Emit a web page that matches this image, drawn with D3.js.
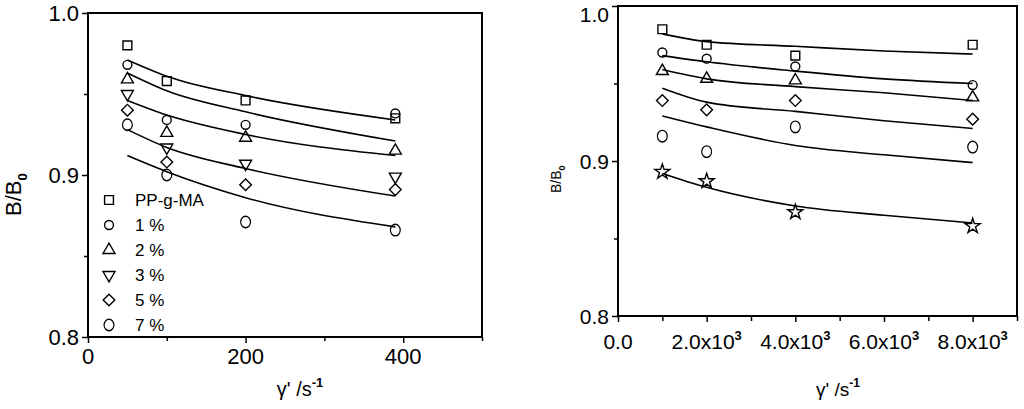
<!DOCTYPE html>
<html lang="en">
<head>
<meta charset="UTF-8">
<title>B/B0 vs shear rate</title>
<script src="https://d3js.org/d3.v7.min.js"></script>
<style>
  body { margin: 0; background: #fff; }
  svg { display: block; }
  text { font-family: "Liberation Sans", Arial, sans-serif; fill: #000; }
</style>
</head>
<body>
<svg id="chart" width="1024" height="409"></svg>
<script>
// ---- left panel data ----
const leftX = [50, 100, 200, 390];
const leftNames = ["PP-g-MA", "1 %", "2 %", "3 %", "5 %", "7 %"];
const leftSymbols = ["square", "circle", "triangle", "triangleDown", "diamond", "bigCircle"];
const leftPP = [0.980, 0.958, 0.946, 0.935];
const left1 = [0.968, 0.934, 0.931, 0.938];
const left2 = [0.959, 0.926, 0.923, 0.915];
const left3 = [0.950, 0.917, 0.907, 0.899];
const left5 = [0.940, 0.908, 0.894, 0.891];
const left7 = [0.931, 0.900, 0.871, 0.866];
const leftFitX = [50, 100, 200, 390];
const leftFits = [
  [0.971, 0.961, 0.949, 0.934],
  [0.963, 0.952, 0.939, 0.921],
  [0.946, 0.937, 0.925, 0.912],
  [0.928, 0.917, 0.904, 0.887],
  [0.912, 0.902, 0.886, 0.868]
];
const leftXTicks = [0, 200, 400];

// ---- right panel data ----
const rightX = [1000, 2000, 4000, 8000];
const rightSymbols = ["square", "circle", "triangle", "diamond", "bigCircle", "star"];
const rightSq = [0.985, 0.975, 0.968, 0.975];
const rightCi = [0.970, 0.966, 0.961, 0.949];
const rightTr = [0.958, 0.953, 0.952, 0.941];
const rightDi = [0.939, 0.933, 0.939, 0.927];
const rightBc = [0.916, 0.906, 0.922, 0.909];
const rightSt = [0.893, 0.887, 0.867, 0.858];
const rightFitX = [1000, 2000, 4000, 6000, 8000];
const rightFits = [
  [0.982, 0.977, 0.974, 0.971, 0.969],
  [0.968, 0.964, 0.958, 0.953, 0.950],
  [0.959, 0.953, 0.948, 0.944, 0.939],
  [0.947, 0.938, 0.932, 0.926, 0.921],
  [0.929, 0.922, 0.910, 0.904, 0.899],
  [0.892, 0.883, 0.871, 0.865, 0.860]
];
const rightXTicks = [0, 2000, 4000, 6000, 8000];
const rightXLabels = ["0.0", "2.0x10", "4.0x10", "6.0x10", "8.0x10"];

const yTicks = [0.8, 0.9, 1.0];

const svg = d3.select("#chart");

function symbolPath(kind) {
  const s = d3.symbol();
  if (kind === "square") return s.type(d3.symbolSquare).size(78)();
  if (kind === "circle") return s.type(d3.symbolCircle).size(62)();
  if (kind === "bigCircle") return s.type(d3.symbolCircle).size(105)();
  if (kind === "triangle" || kind === "triangleDown") return s.type(d3.symbolTriangle).size(62)();
  if (kind === "diamond") return s.type(d3.symbolSquare).size(68)();
  if (kind === "star") return s.type(d3.symbolStar).size(70)();
}
function symbolRotate(kind) {
  if (kind === "triangleDown") return 180;
  if (kind === "diamond") return 45;
  return 0;
}

function drawPanel(cfg) {
  const g = svg.append("g");
  const x = d3.scaleLinear().domain(cfg.xDomain).range([cfg.left, cfg.right]);
  const y = d3.scaleLinear().domain([0.8, 1.0]).range([cfg.bottom, cfg.top]);

  // frame
  g.append("rect")
    .attr("x", cfg.left).attr("y", cfg.top)
    .attr("width", cfg.right - cfg.left).attr("height", cfg.bottom - cfg.top)
    .attr("fill", "none").attr("stroke", "#000").attr("stroke-width", 2);

  // y axis ticks
  const yAxis = g.append("g").attr("transform", `translate(${cfg.left},0)`)
    .call(d3.axisLeft(y).tickValues(yTicks).tickSize(6).tickFormat(d3.format(".1f")));
  yAxis.select(".domain").remove();
  yAxis.selectAll(".tick line").attr("stroke-width", 1.5);
  yAxis.selectAll(".tick text").attr("font-size", cfg.tickFont).attr("x", -9)
    .attr("dy", d => (y(d) < 10 ? "0.72em" : "0.36em"));
  g.append("g").attr("transform", `translate(${cfg.left},0)`)
    .call(d3.axisLeft(y).tickValues([0.85, 0.95]).tickSize(4).tickFormat(""))
    .call(a => a.select(".domain").remove())
    .selectAll(".tick line").attr("stroke-width", 1.5);

  // x axis ticks
  const xAxis = g.append("g").attr("transform", `translate(0,${cfg.bottom})`)
    .call(d3.axisBottom(x).tickValues(cfg.xMinor).tickSize(cfg.xMinorLen).tickFormat(""));
  xAxis.select(".domain").remove();
  xAxis.selectAll(".tick line").attr("stroke-width", 1.5);
  const xMaj = g.append("g").attr("transform", `translate(0,${cfg.bottom})`)
    .call(d3.axisBottom(x).tickValues(cfg.xTicks).tickSize(6).tickFormat(""));
  xMaj.select(".domain").remove();
  xMaj.selectAll(".tick line").attr("stroke-width", 1.5);

  // x tick labels
  const lab = g.append("g").selectAll("text").data(cfg.xTicks).join("text")
    .attr("x", d => x(d)).attr("y", cfg.xLabelY)
    .attr("text-anchor", "middle").attr("font-size", cfg.tickFont)
    .text((d, i) => cfg.xLabels[i]);
  lab.filter(d => d > 0 && cfg.xSup)
    .append("tspan").attr("dy", -9).attr("font-size", 13).attr("font-weight", "bold").text(cfg.xSup);

  // fitted lines
  const line = d3.line().x(d => x(d[0])).y(d => y(d[1])).curve(d3.curveMonotoneX);
  g.append("g").selectAll("path").data(cfg.fits).join("path")
    .attr("d", vals => line(cfg.fitX.map((v, i) => [v, vals[i]])))
    .attr("fill", "none").attr("stroke", "#000").attr("stroke-width", 1.6);

  // data points
  cfg.series.forEach((vals, si) => {
    const kind = cfg.symbols[si];
    g.append("g").selectAll("path").data(vals).join("path")
      .attr("d", symbolPath(kind))
      .attr("transform", (d, i) => `translate(${x(cfg.dataX[i])},${y(d)}) rotate(${symbolRotate(kind)})` + (kind === "bigCircle" ? " scale(0.85,1)" : ""))
      .attr("fill", "none").attr("stroke", "#000").attr("stroke-width", 1.4);
  });
  return { g, x, y };
}

// left panel
const L = drawPanel({
  left: 88, right: 482, top: 13, bottom: 337,
  xDomain: [0, 500], xTicks: leftXTicks, xLabels: leftXTicks.map(String),
  xMinor: [100, 300, 500], xMinorLen: 4, xLabelY: 364, tickFont: 22, xSup: null,
  dataX: leftX, fitX: leftFitX, fits: leftFits,
  series: [leftPP, left1, left2, left3, left5, left7], symbols: leftSymbols
});

// legend (left panel)
const leg = L.g.append("g").selectAll("g").data(leftNames).join("g")
  .attr("transform", (d, i) => `translate(109,${200 + i * 25})`);
leg.append("path")
  .attr("d", (d, i) => symbolPath(leftSymbols[i]))
  .attr("transform", (d, i) => `rotate(${symbolRotate(leftSymbols[i])})` + (leftSymbols[i] === "bigCircle" ? " scale(0.85,1)" : ""))
  .attr("fill", "none").attr("stroke", "#000").attr("stroke-width", 1.4);
leg.append("text").attr("x", 26).attr("dy", "0.36em").attr("font-size", 17).text(d => d);

// left axis titles
svg.append("text").attr("transform", "translate(21,216) rotate(-90)").attr("font-size", 22)
  .text("B/B").append("tspan").attr("dy", 6).attr("font-size", 13).attr("font-weight", "bold").text("0");
svg.append("text").attr("x", 300).attr("y", 396).attr("text-anchor", "middle").attr("font-size", 20)
  .text("γ'  /s").append("tspan").attr("dy", -9).attr("font-size", 13).attr("font-weight", "bold").text("-1");

// right panel
drawPanel({
  left: 618, right: 1017, top: 6, bottom: 316,
  xDomain: [0, 9000], xTicks: rightXTicks, xLabels: rightXLabels,
  xMinor: [1000, 3000, 5000, 7000, 9000], xMinorLen: 5, xLabelY: 349, tickFont: 21, xSup: "3",
  dataX: rightX, fitX: rightFitX, fits: rightFits,
  series: [rightSq, rightCi, rightTr, rightDi, rightBc, rightSt], symbols: rightSymbols
});

svg.append("text").attr("transform", "translate(561,193) rotate(-90)").attr("font-size", 14)
  .text("B/B").append("tspan").attr("dy", 4).attr("font-size", 9).attr("font-weight", "bold").text("0");
svg.append("text").attr("x", 838).attr("y", 396).attr("text-anchor", "middle").attr("font-size", 19)
  .text("γ'  /s").append("tspan").attr("dy", -9).attr("font-size", 12).attr("font-weight", "bold").text("-1");
</script>
</body>
</html>
